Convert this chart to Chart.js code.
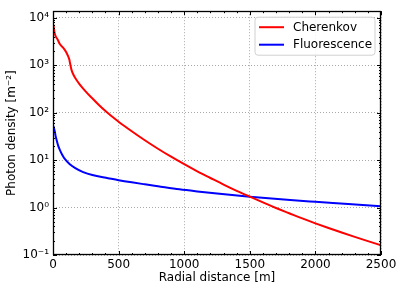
<!DOCTYPE html>
<html>
<head>
<meta charset="utf-8">
<script src="https://cdn.jsdelivr.net/npm/chart.js@4/dist/chart.umd.min.js"></script>
<style>
  html, body { margin: 0; padding: 0; background: #fff; }
  #wrap { width: 402px; height: 289px; }
</style>
</head>
<body>
<div id="wrap"><canvas id="c" width="402" height="289"></canvas></div>
<script>
// ---- data ----
const seriesNames = ['Cherenkov', 'Fluorescence'];
const seriesColors = ['#ff0000', '#0000ff'];

const cherenkovRadius = [0, 5, 10, 16, 22, 35, 52, 80, 100, 115, 125, 130, 141, 160, 179, 200, 250, 300, 350, 400, 450, 500, 600, 700, 800, 900, 1000, 1100, 1200, 1300, 1400, 1500, 1600, 1700, 1800, 1900, 2000, 2100, 2200, 2300, 2400, 2500];
const cherenkovDensity = [7500, 6500, 5200, 4400, 4000, 3500, 2800, 2300, 1900, 1550, 1300, 1100, 800, 600, 490, 407, 279, 200, 145, 108, 83, 64.5, 40.7, 26.3, 17.4, 11.8, 8.2, 5.8, 4.2, 3.05, 2.25, 1.7, 1.29, 0.98, 0.76, 0.59, 0.465, 0.37, 0.298, 0.241, 0.196, 0.161];

const fluorRadius = [0, 5, 10, 14, 20, 27, 40, 52, 70, 90, 128, 170, 230, 300, 420, 500, 600, 700, 800, 964, 1100, 1250, 1500, 1808, 2000, 2250, 2500];
const fluorDensity = [52, 50, 44, 40, 32, 27, 20, 16.5, 13, 10.6, 8.2, 6.8, 5.6, 4.84, 4.17, 3.78, 3.4, 3.09, 2.82, 2.43, 2.19, 1.97, 1.7, 1.44, 1.32, 1.185, 1.06];

const xMajorTicks = [0, 500, 1000, 1500, 2000, 2500];
const xMinorStep = 100;
const yDecades = [0.1, 1, 10, 100, 1000, 10000];
const yDecadeLabels = ['10⁻¹', '10⁰', '10¹', '10²', '10³', '10⁴'];
const xMin = 0, xMax = 2500, yMin = 0.1, yMax = 13800;

const toPoints = (xs, ys) => xs.map((v, i) => ({ x: v, y: ys[i] }));

Chart.defaults.font.family = "'DejaVu Sans', sans-serif";
Chart.defaults.font.size = 12;
Chart.defaults.color = '#000';

const framePlugin = {
  id: 'frame',
  afterDraw(chart) {
    const { ctx, chartArea: a, scales } = chart;
    const x = scales.x, y = scales.y;
    ctx.save();
    ctx.strokeStyle = '#000';
    ctx.lineWidth = 1;
    ctx.beginPath();
    for (let v = xMin; v <= xMax; v += xMinorStep) {
      const px = Math.round(x.getPixelForValue(v)) + 0.5;
      const len = xMajorTicks.includes(v) ? 4 : 2;
      ctx.moveTo(px, a.bottom); ctx.lineTo(px, a.bottom - len);
      ctx.moveTo(px, a.top); ctx.lineTo(px, a.top + len);
    }
    yDecades.forEach(d => {
      for (let m = 1; m <= 9; m++) {
        const v = d * m;
        if (v < yMin || v > yMax) continue;
        const py = Math.round(y.getPixelForValue(v)) + 0.5;
        const len = m === 1 ? 4 : 2;
        ctx.moveTo(a.left, py); ctx.lineTo(a.left + len, py);
        ctx.moveTo(a.right, py); ctx.lineTo(a.right - len, py);
      }
    });
    ctx.stroke();
    ctx.lineWidth = 1.3;
    ctx.strokeRect(Math.round(a.left) + 0.5, Math.round(a.top) + 0.5,
                   Math.round(a.right) - Math.round(a.left) - 1, Math.round(a.bottom) - Math.round(a.top) - 1);

    // legend
    const w = 120, h = 38;
    const lx = a.right - 6 - w, ly = a.top + 6;
    ctx.beginPath();
    const r = 3;
    ctx.moveTo(lx + r, ly);
    ctx.arcTo(lx + w, ly, lx + w, ly + h, r);
    ctx.arcTo(lx + w, ly + h, lx, ly + h, r);
    ctx.arcTo(lx, ly + h, lx, ly, r);
    ctx.arcTo(lx, ly, lx + w, ly, r);
    ctx.closePath();
    ctx.fillStyle = 'rgba(255,255,255,0.85)';
    ctx.fill();
    ctx.strokeStyle = '#d0d0d0';
    ctx.lineWidth = 1;
    ctx.stroke();
    ctx.font = "12px 'DejaVu Sans', sans-serif";
    ctx.textBaseline = 'middle';
    ctx.textAlign = 'left';
    chart.data.datasets.forEach((ds, i) => {
      const yy = ly + 10 + i * 17.5;
      ctx.strokeStyle = ds.borderColor;
      ctx.lineWidth = 2;
      ctx.beginPath();
      ctx.moveTo(lx + 4, yy); ctx.lineTo(lx + 29, yy);
      ctx.stroke();
      ctx.fillStyle = '#000';
      ctx.fillText(ds.label, lx + 38, yy + 0.5);
    });
    ctx.restore();
  }
};

new Chart(document.getElementById('c'), {
  type: 'line',
  data: {
    datasets: [
      { label: seriesNames[0], data: toPoints(cherenkovRadius, cherenkovDensity), borderColor: seriesColors[0], backgroundColor: seriesColors[0], borderWidth: 2, pointRadius: 0, cubicInterpolationMode: 'monotone', fill: false },
      { label: seriesNames[1], data: toPoints(fluorRadius, fluorDensity), borderColor: seriesColors[1], backgroundColor: seriesColors[1], borderWidth: 2, pointRadius: 0, cubicInterpolationMode: 'monotone', fill: false }
    ]
  },
  options: {
    responsive: false,
    animation: false,
    devicePixelRatio: 1,
    layout: { padding: { top: 4, right: 21, left: 0, bottom: 0 } },
    plugins: { legend: { display: false }, tooltip: { enabled: false } },
    scales: {
      x: {
        type: 'linear', min: xMin, max: xMax,
        afterBuildTicks: s => { s.ticks = xMajorTicks.map(v => ({ value: v })); },
        afterFit: s => { s.height = 34; },
        ticks: { padding: 3, maxRotation: 0, autoSkip: false, font: { size: 12 },
                 callback: (v) => String(v) },
        grid: { drawTicks: false, color: 'rgba(160,160,160,0.9)', lineWidth: 1 },
        border: { display: false, dash: [1, 2] },
        title: { display: true, text: 'Radial distance [m]', font: { size: 12 }, padding: { top: 0, bottom: 4 } }
      },
      y: {
        type: 'logarithmic', min: yMin, max: yMax,
        afterBuildTicks: s => { s.ticks = yDecades.map(v => ({ value: v })); },
        afterFit: s => { s.width = 53; },
        ticks: { padding: 4, autoSkip: false, font: { size: 12 },
                 callback: (v) => { const i = yDecades.findIndex(d => Math.abs(d - v) / d < 1e-6); return i >= 0 ? yDecadeLabels[i] : ''; } },
        grid: { drawTicks: false, color: 'rgba(160,160,160,0.9)', lineWidth: 1 },
        border: { display: false, dash: [1, 2] },
        title: { display: true, text: 'Photon density [m⁻²]', font: { size: 12 }, padding: { top: 5, bottom: 0 } }
      }
    }
  },
  plugins: [framePlugin]
});
</script>
</body>
</html>
